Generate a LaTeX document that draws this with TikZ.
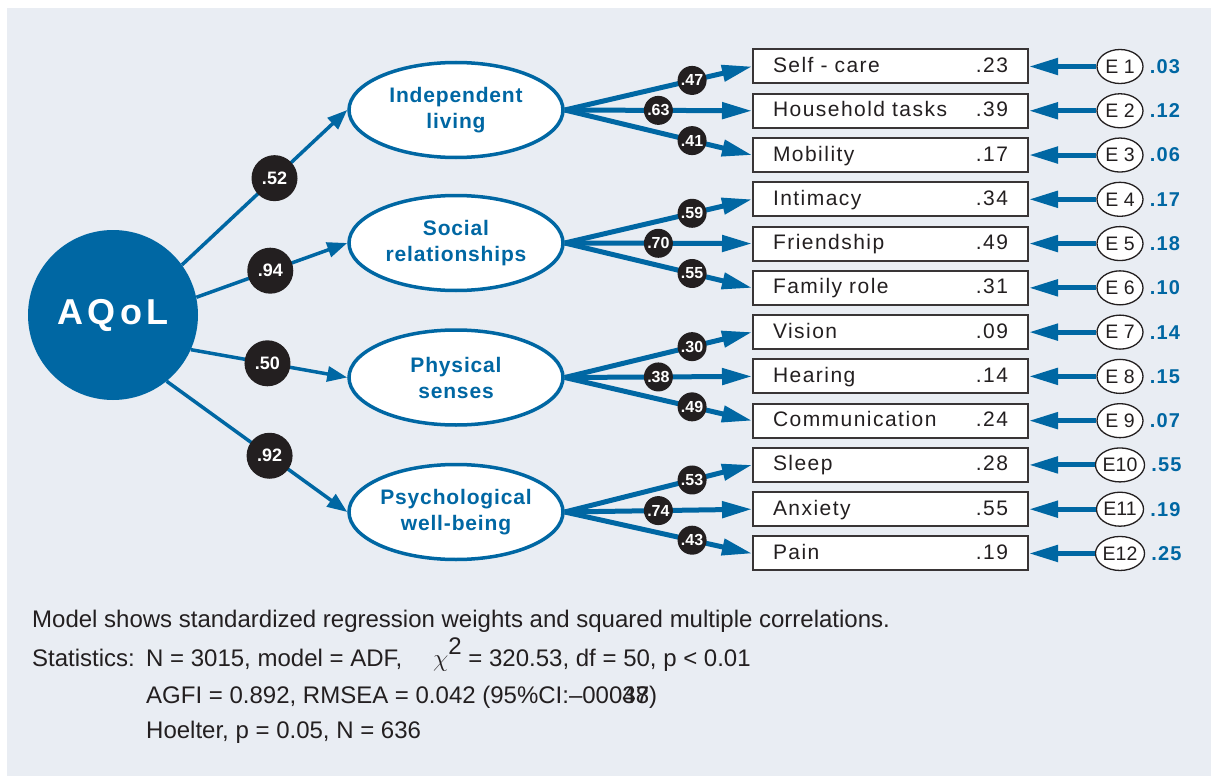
\documentclass[tikz,border=0pt]{standalone}
\usepackage{fontspec}
\setmainfont{Liberation Sans}
\newfontfamily\boxfont[LetterSpace = 7]{Liberation Sans}
\newfontfamily\headfont[LetterSpace = 4]{Liberation Sans}
\newfontfamily\logofont[LetterSpace = 12]{Liberation Sans}
\newfontfamily\valfont[LetterSpace = 6]{Liberation Sans}
\usetikzlibrary{arrows.meta, shapes.geometric}
\definecolor{aqblue}{RGB}{0,103,163}
\definecolor{panel}{RGB}{233,237,243}
\definecolor{ink}{RGB}{35,31,32}

\begin{document}
\begin{tikzpicture}[x = 1pt, y = -1pt,
	latent/.style = {ellipse, draw = aqblue, line width = 3.5pt, fill = white, minimum width = 214pt, minimum height = 95pt, inner sep = 0pt, align = center, text = aqblue, font = \headfont\bfseries\fontsize{21}{26}\selectfont},
	obs/.style = {rectangle, draw = ink!90, line width = 2pt, fill = white, minimum height = 34pt, text width = 235pt, inner xsep = 20pt, inner ysep = 0pt, text height = 15pt, text depth = 3pt, align = left, text = ink, font = \boxfont\fontsize{21}{24}\selectfont},
	err/.style = {ellipse, draw = ink, line width = 1.3pt, fill = white, minimum width = 46pt, minimum height = 34pt, inner sep = 0pt, text = ink, font = \fontsize{19.5}{20}\selectfont},
	errval/.style = {anchor = west, inner sep = 0pt, text = aqblue, font = \valfont\bfseries\fontsize{20}{20}\selectfont},
	big/.style = {circle, fill = ink, text = white, minimum size = 46pt, inner sep = 0pt, font = \bfseries\fontsize{18}{18}\selectfont},
	small/.style = {circle, fill = ink, text = white, minimum size = 29pt, inner sep = 0pt, font = \bfseries\fontsize{16}{16}\selectfont},
	factor/.style = {draw = aqblue, line width = 3.5pt, -{Triangle[length = 20pt, width = 15pt]}},
	loading/.style = {draw = aqblue, line width = 5pt, -{Triangle[length = 30pt, width = 16pt]}},
	errarrow/.style = {draw = aqblue, line width = 5pt, -{Triangle[length = 29pt, width = 16pt]}},
	note/.style = {anchor = base west, inner sep = 0pt, text = ink, font = \fontsize{24}{28}\selectfont}]
	\useasboundingbox (0, 0) rectangle (1211, 776);
	\fill[panel] (7, 8) rectangle (1211, 776);
	\node[circle, fill = aqblue, minimum size = 170pt, inner sep = 0pt, text = white, font = \logofont\bfseries\fontsize{36}{36}\selectfont] (aqol) at (113, 315) {AQoL};
	\foreach \i/\y/\txt in {1/110/{Independent\\living}, 2/243/{Social\\relationships}, 3/377.5/{Physical\\senses}, 4/512/{Psychological\\well-being}}
		\node[latent] (lat\i) at (456, \y) {\txt};
	\foreach \txt/\r/\e/\ev [count = \k] in {Self - care/.23/E 1/.03, Household tasks/.39/E 2/.12, Mobility/.17/E 3/.06, Intimacy/.34/E 4/.17, Friendship/.49/E 5/.18, Family role/.31/E 6/.10, Vision/.09/E 7/.14, Hearing/.14/E 8/.15, Communication/.24/E 9/.07, Sleep/.28/E10/.55, Anxiety/.55/E11/.19, Pain/.19/E12/.25}{
		\node[obs] (box\k) at (890.5, {66.5 + (\k - 1) * 44.27}) {\txt\hfill\r};
		\node[err] (err\k) at (1120, {66.5 + (\k - 1) * 44.27}) {\e};
		\node[errval] (val\k) at ([xshift = 6pt] err\k.east) {\ev};
		\draw[errarrow] (err\k) -- (box\k);}
	\foreach \g/\ang/\w/\p in {1/36/.52/.56, 2/12/.94/.49, 3/-24/.50/.49, 4/-51/.92/.57}
		\draw[factor] (aqol.\ang) -- node[big, pos = \p] {\w} (lat\g.west);
	\foreach \g/\k/\w/\p in {1/1/.47/.68, 1/2/.63/.5, 1/3/.41/.68, 2/4/.59/.68, 2/5/.70/.5, 2/6/.55/.68, 3/7/.30/.68, 3/8/.38/.5, 3/9/.49/.68, 4/10/.53/.68, 4/11/.74/.5, 4/12/.43/.68}
		\draw[loading] (lat\g.east) -- node[small, pos = \p] {\w} (box\k.west);
	\node[note] (caption) at (32, 627) {Model shows standardized regression weights and squared multiple correlations.};
	\node[note] (stathead) at (32, 666) {Statistics:};
	\node[note] (stat1) at (146, 666) {N = 3015, model = ADF,};
	\node[note] (stat2) at (433, 666) {$\chi$\raisebox{12pt}{2} = 320.53, df = 50, p < 0.01};
	\node[note] (stat3) at (146, 703) {AGFI = 0.892, RMSEA = 0.042 (95\%CI:--000\rlap{38}47)};
	\node[note] (stat4) at (146, 738) {Hoelter, p = 0.05, N = 636};
\end{tikzpicture}
\end{document}
